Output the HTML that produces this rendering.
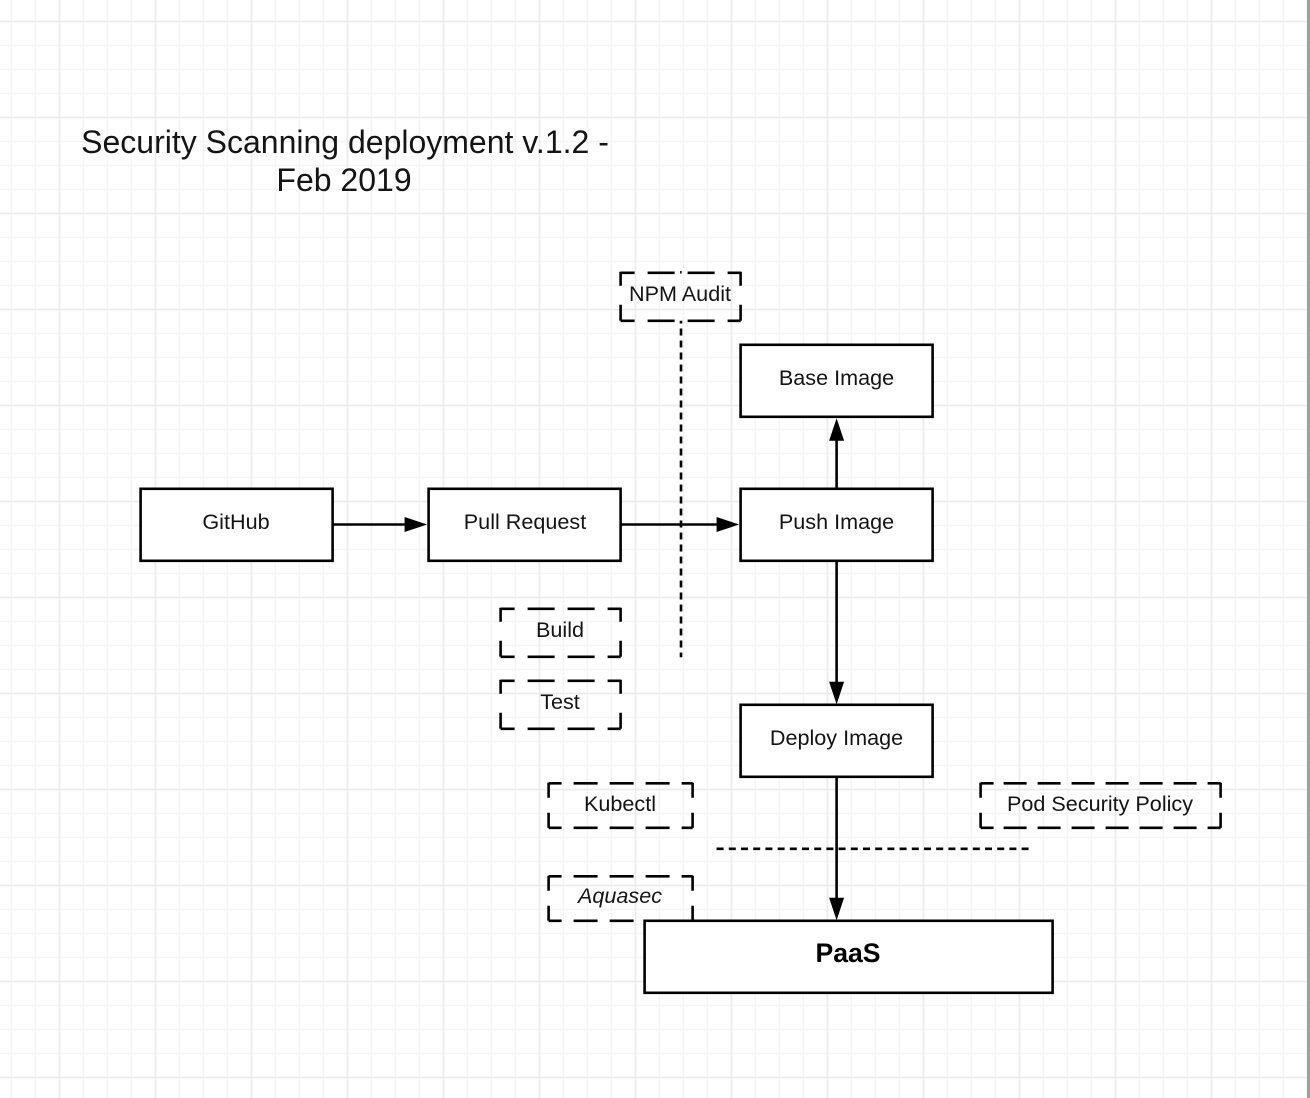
<!DOCTYPE html>
<html><head><meta charset="utf-8"><style>
html,body{margin:0;padding:0;background:#fff}
svg{display:block;filter:blur(0.35px)}
text{font-family:"Liberation Sans",sans-serif;fill:#141414;text-anchor:middle}
</style></head><body>
<svg width="1310" height="1098" viewBox="0 0 1310 1098" xmlns="http://www.w3.org/2000/svg">
<defs>
<pattern id="g" x="-0.5" y="9.5" width="24" height="24" patternUnits="userSpaceOnUse"><path d="M12 0V24M0 12H24" stroke="#f4f4f4" stroke-width="1.5" fill="none"/></pattern>
<pattern id="G" x="11.5" y="-26.5" width="96" height="96" patternUnits="userSpaceOnUse"><path d="M48 0V96M0 48H96" stroke="#ebebeb" stroke-width="1.5" fill="none"/></pattern>
</defs>
<rect width="1310" height="1098" fill="#fff"/>
<rect width="1310" height="1098" fill="url(#g)"/>
<rect width="1310" height="1098" fill="url(#G)"/>
<rect x="1307" y="0" width="3" height="1098" fill="#a0a0a0"/>

<text x="345" y="153" font-size="32">Security Scanning deployment v.1.2 -</text>
<text x="344" y="191" font-size="32">Feb 2019</text>

<g transform="translate(-0.4,-0.2)">
<g fill="#fff" stroke="#000" stroke-width="2.6">
<rect x="141" y="489" width="192" height="72"/>
<rect x="429" y="489" width="192" height="72"/>
<rect x="741" y="345" width="192" height="72"/>
<rect x="741" y="489" width="192" height="72"/>
<rect x="741" y="705" width="192" height="72"/>
</g>

<g fill="none" stroke="#000" stroke-width="2.6">
<path stroke-dasharray="14 13 27 13 27 13 14 0" d="M621 273H741"/>
<path stroke-dasharray="14 13 27 13 27 13 14 0" d="M621 321H741"/>
<path stroke-dasharray="14 19 16" d="M621 272V321"/>
<path stroke-dasharray="14 19 16" d="M741 272V321"/>
<path d="M680.500 272.500H682"/>
<path stroke-dasharray="14 13 27 13 27 13 14 0" d="M501 609H621"/>
<path stroke-dasharray="14 13 27 13 27 13 14 0" d="M501 657H621"/>
<path stroke-dasharray="14 19 16" d="M501 608V657"/>
<path stroke-dasharray="14 19 16" d="M621 608V657"/>
<path stroke-dasharray="14 13 27 13 27 13 14 0" d="M501 681H621"/>
<path stroke-dasharray="14 13 27 13 27 13 14 0" d="M501 729H621"/>
<path stroke-dasharray="14 19 16" d="M501 680V729"/>
<path stroke-dasharray="14 19 16" d="M621 680V729"/>
<path stroke-dasharray="13 12 24 12 24 12 24 12 13" d="M549 783.500H693"/>
<path stroke-dasharray="13 12 24 12 24 12 24 12 13" d="M549 828H693"/>
<path stroke-dasharray="15 15 15" d="M549 783V828"/>
<path stroke-dasharray="15 15 15" d="M693 783V828"/>
<path stroke-dasharray="13 12 24 12 24 12 24 12 13" d="M549 876.500H693"/>
<path stroke-dasharray="13 12 24 12 24 12 24 12 13" d="M549 921H693"/>
<path stroke-dasharray="15 15 15" d="M549 876V921"/>
<path stroke-dasharray="15 15 15" d="M693 876V921"/>
<path stroke-dasharray="13 10 23 11 23 11 23 11 23 11 23 11 23 11 13" d="M981 783.500H1221"/>
<path stroke-dasharray="13 10 23 11 23 11 23 11 23 11 23 11 23 11 13" d="M981 828H1221"/>
<path stroke-dasharray="15 15 15" d="M981 783V828"/>
<path stroke-dasharray="15 15 15" d="M1221 783V828"/>
</g>

<g stroke="#000" stroke-width="2.6" fill="none">
<path d="M333 524.700H408"/>
<path d="M621 524.700H720"/>
<path d="M837 489V438"/>
<path d="M837 561V684"/>
<path d="M837 777V900"/>
<path d="M681.400 321V657.500" stroke-dasharray="7 5" stroke-dashoffset="4.3"/>
<path d="M717 849H1029.300" stroke-dasharray="7 5.2"/>
</g>
<g fill="#000">
<path d="M405 517.200L427.500 524.700L405 532.200Z"/>
<path d="M717 517.200L739.500 524.700L717 532.200Z"/>
<path d="M829.500 441L837 418.500L844.500 441Z"/>
<path d="M829.500 682L837 704.500L844.500 682Z"/>
<path d="M829.500 898L837 920.500L844.500 898Z"/>
</g>

<rect x="645" y="921" width="408" height="72" fill="#fff" stroke="#000" stroke-width="2.6"/>
</g>

<g font-size="21.6">
<text x="236" y="529">GitHub</text>
<text x="525" y="529">Pull Request</text>
<text x="836.500" y="385">Base Image</text>
<text x="836.500" y="529">Push Image</text>
<text x="836.500" y="745">Deploy Image</text>
<text x="680" y="301">NPM Audit</text>
<text x="560" y="637">Build</text>
<text x="560" y="709">Test</text>
<text x="620" y="811">Kubectl</text>
<text x="620" y="903" font-style="italic">Aquasec</text>
<text x="1100" y="811">Pod Security Policy</text>
</g>
<text x="848" y="962" font-size="26.6" font-weight="bold" style="fill:#000">PaaS</text>
</svg>
</body></html>
